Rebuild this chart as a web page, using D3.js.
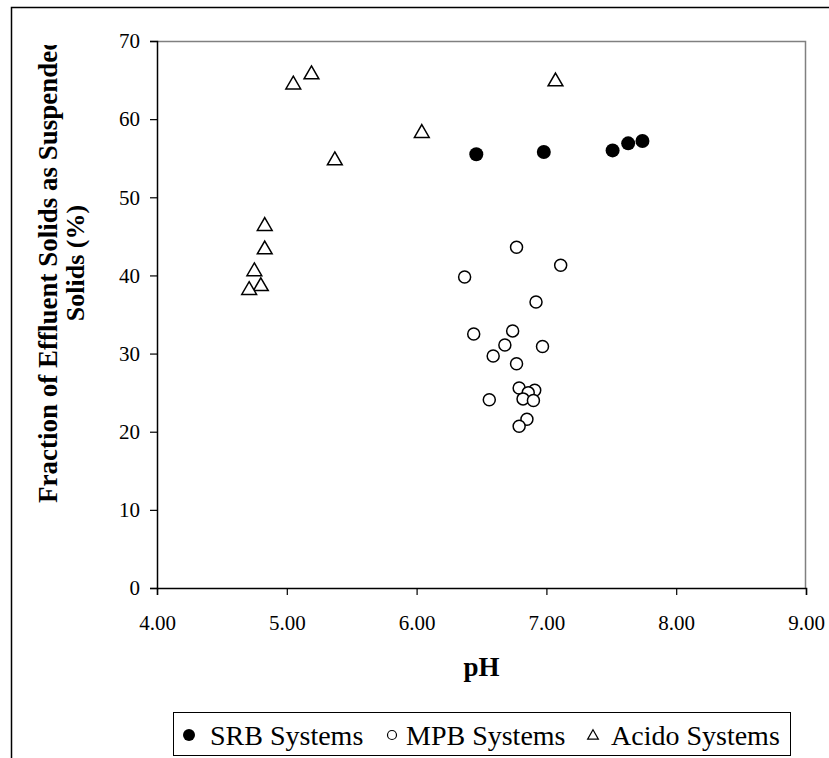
<!DOCTYPE html>
<html>
<head>
<meta charset="utf-8">
<script src="https://cdn.jsdelivr.net/npm/d3@7"></script>
<style>
  body { margin: 0; background: #fff; }
  svg text { font-family: "Liberation Serif", "Times New Roman", serif; }
</style>
</head>
<body>
<div id="chart"></div>
<script>
// data
const srbPH   = [6.46, 6.98, 7.51, 7.63, 7.74];
const srbFrac = [55.5, 55.8, 56.0, 56.9, 57.2];

const mpbPH   = [6.77, 7.11, 6.37, 6.92, 6.44, 6.74, 6.68, 6.97, 6.59, 6.77, 6.79, 6.91, 6.86, 6.82, 6.90, 6.56, 6.85, 6.79];
const mpbFrac = [43.6, 41.3, 39.8, 36.6, 32.5, 32.9, 31.1, 30.9, 29.7, 28.7, 25.6, 25.3, 25.0, 24.2, 24.0, 24.1, 21.6, 20.7];

const acidoPH   = [5.05, 5.19, 6.04, 5.37, 4.83, 4.83, 4.75, 4.80, 4.71, 7.07];
const acidoFrac = [64.6, 65.9, 58.4, 54.9, 46.5, 43.5, 40.7, 38.8, 38.3, 65.0];

const xTicks = [4, 5, 6, 7, 8, 9];
const yTicks = [0, 10, 20, 30, 40, 50, 60, 70];
const legendNames = ["SRB Systems", "MPB Systems", "Acido Systems"];

const W = 829, H = 758;
const plot = { left: 157, right: 806, top: 41, bottom: 588 };

const svg = d3.select("#chart").append("svg")
    .attr("width", W)
    .attr("height", H);

// outer chart frame (runs off the right and bottom)
svg.append("path")
    .attr("d", `M11.5,${H + 2} L11.5,7.5 L${W + 2},7.5`)
    .attr("fill", "none")
    .attr("stroke", "#000")
    .attr("stroke-width", 1.5);

const x = d3.scaleLinear().domain([4, 9]).range([plot.left, plot.right]);
const y = d3.scaleLinear().domain([0, 70]).range([plot.bottom, plot.top]);

// top/right plot border in grey
svg.append("path")
    .attr("d", `M${plot.left},${plot.top + 0.5} L${plot.right - 0.5},${plot.top + 0.5} L${plot.right - 0.5},${plot.bottom}`)
    .attr("fill", "none")
    .attr("stroke", "#808080")
    .attr("stroke-width", 1.5);

const xAxis = svg.append("g")
    .attr("transform", `translate(0,${plot.bottom})`)
    .call(d3.axisBottom(x).tickValues(xTicks).tickFormat(d3.format(".2f")).tickSize(7).tickPadding(20));

const yAxis = svg.append("g")
    .attr("transform", `translate(${plot.left},0)`)
    .call(d3.axisLeft(y).tickValues(yTicks).tickSize(7).tickPadding(10));

[xAxis, yAxis].forEach(g => {
    g.attr("font-family", null);
    g.select(".domain").attr("stroke", "#000").attr("stroke-width", 1.5);
    g.selectAll(".tick line").attr("stroke", "#000").attr("stroke-width", 1.2);
    g.selectAll("text").attr("font-size", 21).attr("fill", "#000");
});

// axis titles
svg.append("text")
    .attr("x", (plot.left + plot.right) / 2)
    .attr("y", 676)
    .attr("text-anchor", "middle")
    .attr("font-size", 27)
    .attr("font-weight", "bold")
    .text("pH");

svg.append("clipPath").attr("id", "ytitle-clip")
    .append("rect").attr("x", 0).attr("y", 45).attr("width", 140).attr("height", 600);

const yTitle = svg.append("g")
    .attr("clip-path", "url(#ytitle-clip)")
    .attr("font-weight", "bold");

// first line is too long for its box, so it gets cut at the top
yTitle.append("text")
    .attr("transform", "translate(48,503) rotate(-90)")
    .attr("dy", "0.35em")
    .attr("font-size", 27)
    .text("Fraction of Effluent Solids as Suspended");

yTitle.append("text")
    .attr("transform", "translate(75,263) rotate(-90)")
    .attr("text-anchor", "middle")
    .attr("dy", "0.35em")
    .attr("font-size", 26)
    .text("Solids (%)");

// markers
const tri = d3.symbol().type(d3.symbolTriangle).size(95);

svg.append("g").selectAll("path")
    .data(d3.zip(acidoPH, acidoFrac))
    .join("path")
    .attr("transform", d => `translate(${x(d[0])},${y(d[1]) + 1.5})`)
    .attr("d", tri)
    .attr("fill", "#fff")
    .attr("stroke", "#000")
    .attr("stroke-width", 1.5);

svg.append("g").selectAll("circle")
    .data(d3.zip(mpbPH, mpbFrac))
    .join("circle")
    .attr("cx", d => x(d[0]))
    .attr("cy", d => y(d[1]))
    .attr("r", 6)
    .attr("fill", "#fff")
    .attr("stroke", "#000")
    .attr("stroke-width", 1.5);

svg.append("g").selectAll("circle")
    .data(d3.zip(srbPH, srbFrac))
    .join("circle")
    .attr("cx", d => x(d[0]))
    .attr("cy", d => y(d[1]))
    .attr("r", 7)
    .attr("fill", "#000");

// legend
const legend = svg.append("g");
legend.append("rect")
    .attr("x", 173.5).attr("y", 712.5)
    .attr("width", 617).attr("height", 43)
    .attr("fill", "#fff")
    .attr("stroke", "#000")
    .attr("stroke-width", 1);

const legendMark = [189, 392, 593];
const legendText = [210, 406, 611];
const ly = 735;
legend.append("circle").attr("cx", legendMark[0]).attr("cy", ly).attr("r", 6).attr("fill", "#000");
legend.append("circle").attr("cx", legendMark[1]).attr("cy", ly).attr("r", 4.5)
    .attr("fill", "#fff").attr("stroke", "#000").attr("stroke-width", 1.2);
legend.append("path")
    .attr("transform", `translate(${legendMark[2]},${ly + 1})`)
    .attr("d", d3.symbol().type(d3.symbolTriangle).size(50))
    .attr("fill", "#fff").attr("stroke", "#000").attr("stroke-width", 1.2);

legend.selectAll("text.lg")
    .data(legendNames)
    .join("text")
    .attr("class", "lg")
    .attr("x", (d, i) => legendText[i])
    .attr("y", 745)
    .attr("font-size", 28)
    .text(d => d);
</script>
</body>
</html>
